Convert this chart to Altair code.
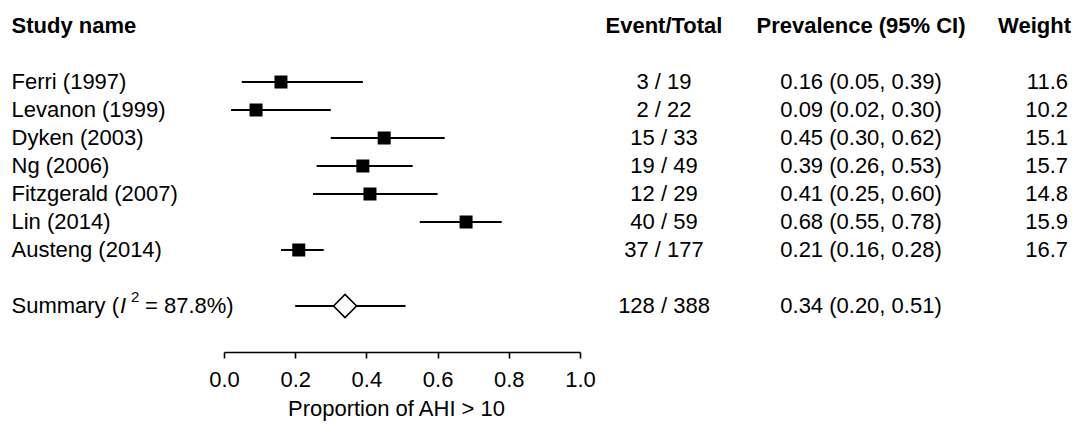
import altair as alt
import pandas as pd

# ---- data ----
studies = ["Ferri (1997)", "Levanon (1999)", "Dyken (2003)", "Ng (2006)",
           "Fitzgerald (2007)", "Lin (2014)", "Austeng (2014)"]
events = [3, 2, 15, 19, 12, 40, 37]
totals = [19, 22, 33, 49, 29, 59, 177]
prev = [0.16, 0.09, 0.45, 0.39, 0.41, 0.68, 0.21]
lo = [0.05, 0.02, 0.30, 0.26, 0.25, 0.55, 0.16]
hi = [0.39, 0.30, 0.62, 0.53, 0.60, 0.78, 0.28]
weights = [11.6, 10.2, 15.1, 15.7, 14.8, 15.9, 16.7]

sum_events, sum_total = 128, 388
sum_prev, sum_lo, sum_hi = 0.34, 0.20, 0.51
i2_text = "87.8%"

headers = ["Study name", "Event/Total", "Prevalence (95% CI)", "Weight"]
tick_values = [0.0, 0.2, 0.4, 0.6, 0.8, 1.0]
x_title = "Proportion of AHI > 10"

# ---- tables ----
rows = list(range(2, 2 + len(studies)))
df = pd.DataFrame({
    "name": studies, "row": rows, "prev": prev, "lo": lo, "hi": hi,
    "et": [f"{e} / {t}" for e, t in zip(events, totals)],
    "ci": [f"{p:.2f} ({l:.2f}, {h:.2f})" for p, l, h in zip(prev, lo, hi)],
    "w": [f"{w:.1f}" for w in weights],
})
sum_row = 10
sdf = pd.DataFrame({
    "row": [sum_row], "prev": [sum_prev], "lo": [sum_lo], "hi": [sum_hi],
    "et": [f"{sum_events} / {sum_total}"],
    "ci": [f"{sum_prev:.2f} ({sum_lo:.2f}, {sum_hi:.2f})"],
    "s1": ["Summary ("], "s2": ["I"], "s3": ["2"], "s4": [f"= {i2_text})"],
})
hdf = pd.DataFrame({"row": [0], "h0": [headers[0]], "h1": [headers[1]],
                    "h2": [headers[2]], "h3": [headers[3]]})

FONT = "Liberation Sans"
FS = 22

xsc = alt.Scale(domain=[0, 1], range=[216, 572])
ysc = alt.Scale(domain=[-0.643, 11.643], range=[0, 344])
xaxis = alt.Axis(values=tick_values, format=".1f", title=x_title, grid=False,
                 domainColor="black", domainWidth=1.6, tickColor="black",
                 tickWidth=1.6, tickSize=6, labelFontSize=FS, labelFont=FONT,
                 labelColor="black", labelPadding=11, titleFontSize=FS,
                 titleFont=FONT, titleFontWeight="normal", titleColor="black",
                 titlePadding=8, titleX=388, labelFlush=False)
Y = alt.Y("row:Q", scale=ysc, axis=None)

rules = alt.Chart(df).mark_rule(color="black", strokeWidth=1.9).encode(
    x=alt.X("lo:Q", scale=xsc, axis=xaxis), x2="hi:Q", y=Y)
squares = alt.Chart(df).mark_square(color="black", size=169, opacity=1).encode(
    x=alt.X("prev:Q", scale=xsc, axis=xaxis), y=Y)
srule = alt.Chart(sdf).mark_rule(color="black", strokeWidth=1.9).encode(
    x=alt.X("lo:Q", scale=xsc, axis=xaxis), x2="hi:Q", y=Y)
diamond = alt.Chart(sdf).mark_point(shape="diamond", filled=True, fill="white",
                                    stroke="black", strokeWidth=1.6, size=529,
                                    opacity=1).encode(
    x=alt.X("prev:Q", scale=xsc, axis=xaxis), y=Y)


def txt(data, field, x, align, weight="normal", size=FS, dy=0, italic=False):
    kw = dict(font=FONT, fontSize=size, align=align, baseline="middle",
              color="black", fontWeight=weight, dy=dy)
    if italic:
        kw["fontStyle"] = "italic"
    return alt.Chart(data).mark_text(**kw).encode(
        text=f"{field}:N", x=alt.value(x), y=Y)


layers = [
    rules, squares, srule, diamond,
    txt(hdf, "h0", 3.5, "left", "bold"),
    txt(hdf, "h1", 656, "center", "bold"),
    txt(hdf, "h2", 853, "center", "bold"),
    txt(hdf, "h3", 1063, "right", "bold"),
    txt(df, "name", 3.5, "left"),
    txt(df, "et", 656, "center"),
    txt(df, "ci", 853, "center"),
    txt(df, "w", 1060, "right"),
    txt(sdf, "s1", 3.5, "left"),
    txt(sdf, "s2", 112, "left", italic=True),
    txt(sdf, "s3", 123, "left", size=15, dy=-9),
    txt(sdf, "s4", 137, "left"),
    txt(sdf, "et", 656, "center"),
    txt(sdf, "ci", 853, "center"),
]

chart = alt.layer(*layers).properties(
    width=1063, height=344,
    autosize=alt.AutoSizeParams(type="none"),
    padding={"left": 0, "top": 0, "right": 0, "bottom": 76},
    background="white",
).configure_view(stroke=None)

chart.save("out.html", embed_options={"renderer": "svg", "actions": False})
